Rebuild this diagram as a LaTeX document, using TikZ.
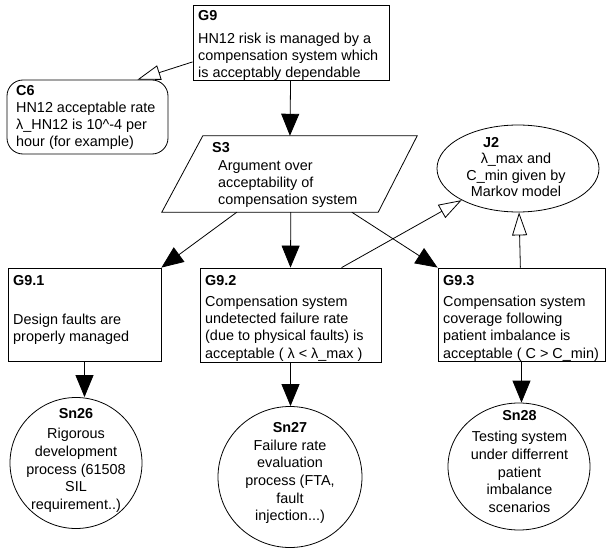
\documentclass[tikz,border=0pt]{standalone}
\usepackage{fontspec}
\setmainfont{Liberation Sans}
\usetikzlibrary{arrows.meta,shapes.geometric}

\begin{document}
\begin{tikzpicture}[x=1pt,y=-1pt]
		\tikzset{goal/.style = {shape=rectangle, draw, line width=0.8pt, inner sep=0pt}}
		\tikzset{context/.style = {shape=rectangle, rounded corners=16pt, draw, line width=0.8pt, inner sep=0pt}}
		\tikzset{strategy/.style = {shape=rectangle, inner sep=0pt}}
		\tikzset{oval/.style = {shape=ellipse, draw, line width=0.8pt, inner sep=0pt}}
		\tikzset{txt/.style = {anchor=north west, align=left, inner sep=0pt, font=\fontsize{14.4}{17.2}\selectfont}}
		\tikzset{ctxt/.style = {anchor=north, align=center, inner sep=0pt, font=\fontsize{14.4}{17.6}\selectfont}}
		\tikzset{solves/.style = {line width=0.8pt, -{Triangle[length=22pt,width=18pt]}}}
		\tikzset{incontext/.style = {line width=0.8pt, -{Triangle[open,length=23pt,width=15pt]}}}

		\useasboundingbox (0,0) rectangle (606,551);

		\node[goal, minimum width=196pt, minimum height=75pt] (G9) at (291,42.5) {};
		\node[txt] (G9_txt) at (198,10.5) {\textbf{G9}\\[5.5pt]HN12 risk is managed by a\\compensation system which\\is acceptably dependable};

		\node[context, minimum width=161pt, minimum height=74pt] (C6) at (87.5,117) {};
		\node[txt] (C6_txt) at (16,85) {\textbf{C6}\\HN12 acceptable rate\\λ\_HN12 is 10\textasciicircum-4 per\\hour (for example)};

		% parallelogram drawn on the corners of S3
		\node[strategy, minimum width=255pt, minimum height=76pt] (S3) at (289.5,174) {};
		\draw[line width=0.8pt] ([xshift=41pt]S3.north west) -- (S3.north east) -- ([xshift=-39pt]S3.south east) -- (S3.south west) -- cycle;
		\node[txt] (S3_txt) at (212,142) {\textbf{S3}\\[1pt]\hspace*{6pt}Argument over\\\hspace*{6pt}acceptability of\\\hspace*{6pt}compensation system};

		\node[oval, minimum width=162pt, minimum height=87pt] (J2) at (518,168.5) {};
		\node[ctxt, font=\fontsize{14.4}{16.5}\selectfont] (J2_txt) at (516,137) {\makebox[66pt][l]{\textbf{J2}}\\λ\_max and\\C\_min given by\\Markov model};

		\node[goal, minimum width=153pt, minimum height=93pt] (G9_1) at (84.5,314.5) {};
		\node[txt] (G9_1_txt) at (13,275) {\textbf{G9.1}\\[22pt]Design faults are\\properly managed};

		\node[goal, minimum width=181pt, minimum height=94pt] (G9_2) at (290.5,315) {};
		\node[txt] (G9_2_txt) at (205,275) {\textbf{G9.2}\\[4pt]Compensation system\\undetected failure rate\\(due to physical faults) is\\acceptable ( λ < λ\_max )};

		\node[goal, minimum width=167pt, minimum height=93pt] (G9_3) at (521.5,314.5) {};
		\node[txt] (G9_3_txt) at (443,275) {\textbf{G9.3}\\[4pt]Compensation system\\coverage following\\patient imbalance is\\acceptable ( C > C\_min)};

		\node[oval, minimum width=132pt, minimum height=131pt] (Sn26) at (76,463) {};
		\node[ctxt] (Sn26_txt) at (76,408) {\textbf{Sn26}\\[3pt]Rigorous\\development\\process (61508\\SIL\\requirement..)};

		\node[oval, minimum width=144pt, minimum height=141pt] (Sn27) at (290,477) {};
		\node[ctxt] (Sn27_txt) at (290,422) {\textbf{Sn27}\\[0.5pt]Failure rate\\evaluation\\process (FTA,\\fault\\injection...)};

		\node[oval, minimum width=142pt, minimum height=127pt] (Sn28) at (519,466.5) {};
		\node[ctxt] (Sn28_txt) at (519.5,410) {\textbf{Sn28}\\[4pt]Testing system\\under differrent\\patient\\imbalance\\scenarios};

		\draw[incontext] ([yshift=18.5pt]G9.south west) -- ([xshift=50pt]C6.north);
		\draw[solves] (G9) -- (S3);

		\draw[solves] ([xshift=75pt]S3.south west) -- (G9_1.north east);
		\draw[solves] ([xshift=129pt]S3.south west) -- (G9_2.north);
		\draw[solves] ([xshift=190pt]S3.south west) -- (G9_3.north west);

		\draw[incontext] ([xshift=142pt]G9_2.north west) -- (J2);
		\draw[incontext] (G9_3) -- (J2);

		\draw[solves] (G9_1) -- (G9_1 |- Sn26.north);
		\draw[solves] (G9_2) -- (G9_2 |- Sn27.north);
		\draw[solves] (G9_3) -- (G9_3 |- Sn28.north);

	\end{tikzpicture}
\end{document}
